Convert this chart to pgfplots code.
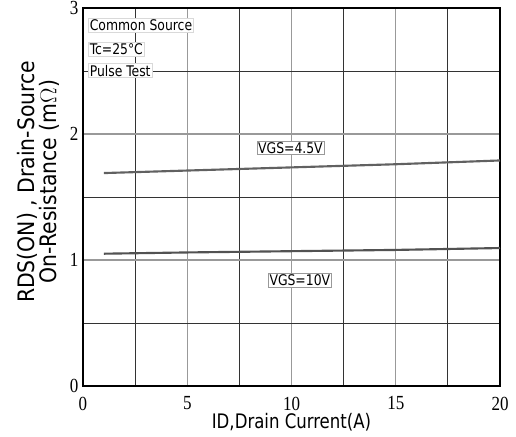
\documentclass[border=0pt]{standalone}
\usepackage{pgfplots}
\pgfplotsset{compat=1.18}
\usepackage{fontspec}
\setmainfont[FakeStretch=0.85]{Liberation Serif}
\newfontfamily\ylabfont{DejaVu Sans Condensed}
\newfontfamily\labfont[FakeStretch=0.92]{DejaVu Sans Condensed}
\newfontfamily\boxfont[FakeStretch=0.94]{DejaVu Sans Condensed}
\begin{document}
\begin{tikzpicture}
\begin{axis}[
  scale only axis,
  width=312.75pt, height=283.5pt,
  xmin=0, xmax=20, ymin=0, ymax=3,
  xtick={0,5,10,15,20}, ytick={0,1,2,3},
  minor xtick={2.5,7.5,12.5,17.5},
  minor ytick={0.5,1.5,2.5},
  grid=both,
  major grid style={draw=black!40, line width=0.8pt},
  minor grid style={draw=black!80, line width=0.6pt},
  tick style={draw=none},
  axis line style={line width=1pt},
  /pgf/number format/assume math mode=true,
  tick label style={font=\fontsize{15}{15}\selectfont},
  xticklabel style={yshift=-4.5pt},
  yticklabel style={xshift=0pt},
  xlabel={ID,Drain Current(A)},
  xlabel style={font=\labfont\fontsize{15}{15}\selectfont, at={(axis description cs:0.5,0)}, anchor=base, yshift=-31.5pt},
  ylabel style={align=center, font=\ylabfont\fontsize{17}{14.8}\selectfont, at={(axis description cs:-0.056,0.54)}, anchor=south, inner sep=0pt},
  ylabel={RDS(ON) , Drain-Source\\On-Resistance (m$\Omega$)},
]
\coordinate (bl) at (rel axis cs:0,0);
\coordinate (tr) at (rel axis cs:1,1);
\addplot[color=black!62, line width=1.6pt] coordinates {(1,1.69) (5,1.71) (10,1.735) (15,1.76) (20,1.79)};
\addplot[color=black!68, line width=1.6pt] coordinates {(1,1.05) (5,1.06) (10,1.07) (15,1.08) (20,1.095)};
\node[draw=black!40, fill=white, inner sep=1pt, font=\boxfont\fontsize{11}{11}\selectfont] at (axis cs:9.95,1.89) {VGS=4.5V};
\node[draw=black!40, fill=white, inner sep=1pt, font=\boxfont\fontsize{11}{11}\selectfont] at (axis cs:10.4,0.84) {VGS=10V};
\node[draw=black!15, fill=white, inner sep=1pt, anchor=north west, font=\boxfont\fontsize{11}{11}\selectfont] at (axis cs:0.25,2.92) {Common Source};
\node[draw=black!15, fill=white, inner sep=1pt, anchor=north west, font=\boxfont\fontsize{11}{11}\selectfont] at (axis cs:0.25,2.73) {Tc=25°C};
\node[draw=black!15, fill=white, inner sep=1pt, anchor=north west, font=\boxfont\fontsize{11}{11}\selectfont] at (axis cs:0.25,2.56) {Pulse Test};
\end{axis}
\pgfresetboundingbox
\path ([xshift=-62.25pt,yshift=-37.5pt]bl) rectangle ([xshift=12pt,yshift=6pt]tr);
\end{tikzpicture}
\end{document}
